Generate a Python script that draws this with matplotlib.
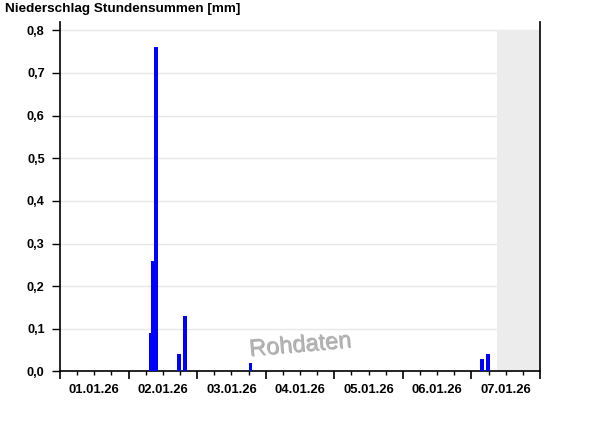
"""Niederschlag Stundensummen - hourly precipitation bars"""
from datetime import datetime
import matplotlib
matplotlib.use("Agg")
import matplotlib.pyplot as plt
import matplotlib.dates as mdates
import matplotlib.patheffects as pe
from matplotlib.ticker import FuncFormatter, MultipleLocator

plt.rcParams['font.family'] = ['Liberation Sans', 'DejaVu Sans']

# hourly sums (start of hour), mm
times = [datetime(2026, 1, 2, 7), datetime(2026, 1, 2, 8), datetime(2026, 1, 2, 9),
         datetime(2026, 1, 2, 17), datetime(2026, 1, 2, 19),
         datetime(2026, 1, 3, 18),
         datetime(2026, 1, 7, 3), datetime(2026, 1, 7, 5)]
precip = [0.09, 0.26, 0.76, 0.04, 0.13, 0.02, 0.03, 0.04]

x_start = datetime(2026, 1, 1)
x_end = datetime(2026, 1, 8)
future_start = datetime(2026, 1, 7, 9)  # no data yet
y_max = 0.8

fig = plt.figure(figsize=(6, 4.26), dpi=100)
ax = fig.add_axes([0.1, 0.128, 0.8, 0.82])

ax.bar(times, precip, width=1.35 / 24, align='edge', color='#0000ff', zorder=3)
ax.fill_between([future_start, x_end], 0, y_max, color='#ececec', lw=0, zorder=2)

ax.set_xlim(x_start, x_end)
ax.set_ylim(0, 0.819)

ax.yaxis.set_major_locator(MultipleLocator(0.1))
ax.yaxis.set_major_formatter(FuncFormatter(lambda v, p: f"{v:.1f}".replace('.', ',')))
ax.grid(axis='y', color='#e8e8e8', lw=1, zorder=1)

ax.xaxis.set_major_locator(mdates.DayLocator())
ax.xaxis.set_major_formatter(FuncFormatter(lambda v, p: ''))
ax.xaxis.set_minor_locator(mdates.HourLocator(byhour=[6, 12, 18]))
ax.xaxis.set_minor_formatter(FuncFormatter(
    lambda v, p: mdates.num2date(v).strftime('%d.%m.%y')
    if mdates.num2date(v).hour == 12 else ''))

ax.tick_params(axis='x', which='major', length=6, width=1.2, direction='out')
ax.tick_params(axis='x', which='minor', length=3, width=1, pad=6,
               labelsize=9.4)
ax.tick_params(axis='y', length=6, width=1, pad=5, labelsize=9.2)
for lab in ax.get_xticklabels(minor=True) + ax.get_yticklabels():
    lab.set_fontweight('bold')

ax.spines['top'].set_visible(False)
for s in ('left', 'bottom', 'right'):
    ax.spines[s].set_linewidth(1.2)

fig.text(0.009, 0.992, "Niederschlag Stundensummen [mm]", ha='left', va='top',
         fontsize=9.7, fontweight='bold')

ax.text(0.5, 0.075, "Rohdaten", transform=ax.transAxes, ha='center', va='center',
        fontsize=17, color='#b4b4b4', rotation=5, zorder=4,
        path_effects=[pe.withSimplePatchShadow(offset=(0.7, -0.7),
                                               shadow_rgbFace='#707070', alpha=0.6)])

fig.savefig("out.png", dpi=100)
